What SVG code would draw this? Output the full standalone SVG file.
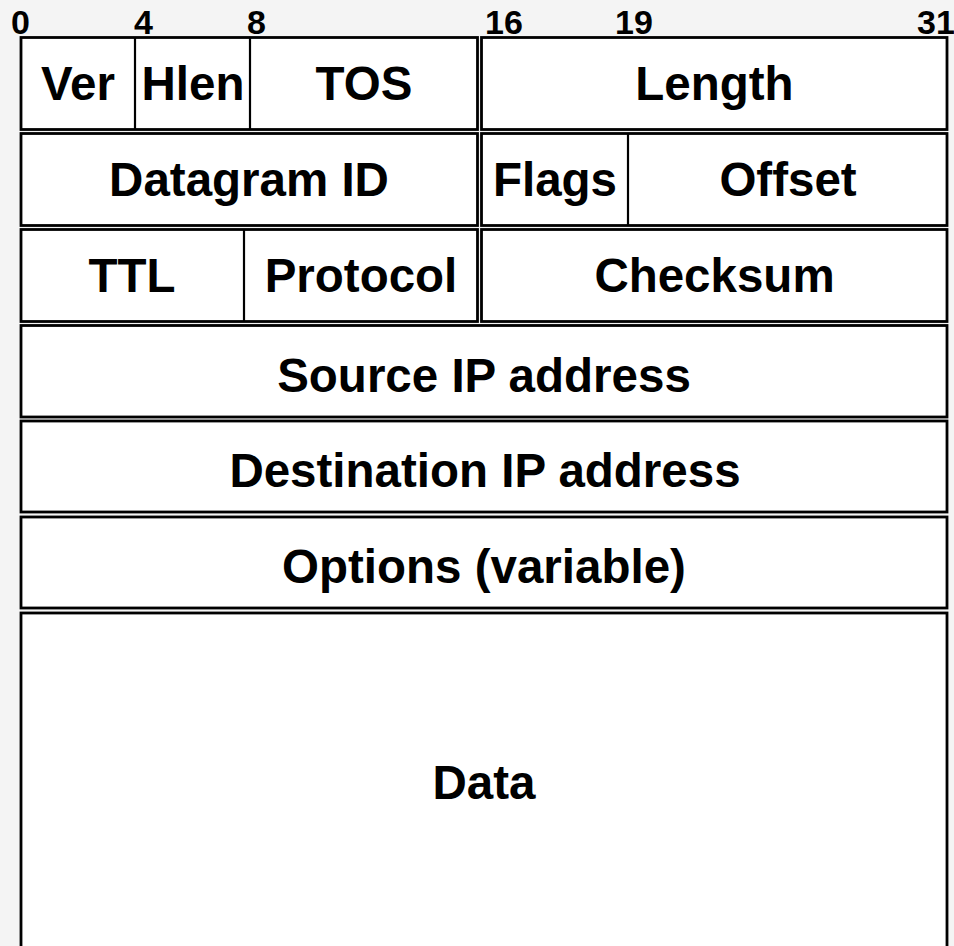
<svg xmlns="http://www.w3.org/2000/svg" width="954" height="946" viewBox="0 0 954 946">
<style>
.box{fill:#ffffff;stroke:#000000;stroke-width:2.8}
.div{stroke:#000000;stroke-width:2.2}
.lbl{font-family:"Liberation Sans",Arial,sans-serif;font-weight:bold;font-size:47.5px;fill:#000;text-anchor:middle}
.bit{font-family:"Liberation Sans",Arial,sans-serif;font-weight:bold;font-size:34px;fill:#000}
</style>
<rect x="0" y="0" width="954" height="946" fill="#f4f4f4"/>
<g id="bits">
<text class="bit" x="11" y="34">0</text>
<text class="bit" x="134" y="34">4</text>
<text class="bit" x="247" y="34">8</text>
<text class="bit" x="485" y="34">16</text>
<text class="bit" x="615" y="34">19</text>
<text class="bit" x="917" y="34">31</text>
</g>
<g id="row1-left">
<rect class="box" x="21" y="37.5" width="456.5" height="92"/>
<line class="div" x1="135" y1="37.5" x2="135" y2="129.5"/>
<line class="div" x1="250" y1="37.5" x2="250" y2="129.5"/>
<text class="lbl" x="78" y="100">Ver</text>
<text class="lbl" x="193" y="100">Hlen</text>
<text class="lbl" x="364" y="100">TOS</text>
</g>
<g id="length">
<rect class="box" x="481.5" y="37.5" width="465.5" height="92"/>
<text class="lbl" x="714.5" y="100">Length</text>
</g>
<g id="datagram-id">
<rect class="box" x="21" y="133.5" width="456.5" height="92"/>
<text class="lbl" x="249" y="196">Datagram ID</text>
</g>
<g id="flags-offset">
<rect class="box" x="481.5" y="133.5" width="465.5" height="92"/>
<line class="div" x1="628" y1="133.5" x2="628" y2="225.5"/>
<text class="lbl" x="555" y="196">Flags</text>
<text class="lbl" x="788" y="196">Offset</text>
</g>
<g id="ttl-protocol">
<rect class="box" x="21" y="229.5" width="456.5" height="92"/>
<line class="div" x1="244" y1="229.5" x2="244" y2="321.5"/>
<text class="lbl" x="132" y="292">TTL</text>
<text class="lbl" x="361" y="292">Protocol</text>
</g>
<g id="checksum">
<rect class="box" x="481.5" y="229.5" width="465.5" height="92"/>
<text class="lbl" x="714.5" y="292">Checksum</text>
</g>
<g id="source-ip">
<rect class="box" x="21" y="325.5" width="926" height="91.5"/>
<text class="lbl" x="484" y="392">Source IP address</text>
</g>
<g id="destination-ip">
<rect class="box" x="21" y="421" width="926" height="91"/>
<text class="lbl" x="485" y="487">Destination IP address</text>
</g>
<g id="options">
<rect class="box" x="21" y="517" width="926" height="91"/>
<text class="lbl" x="484" y="583">Options (variable)</text>
</g>
<g id="data">
<rect class="box" x="21" y="613" width="926" height="345"/>
<text class="lbl" x="484" y="799">Data</text>
</g>
<g id="connectors"></g>
</svg>
